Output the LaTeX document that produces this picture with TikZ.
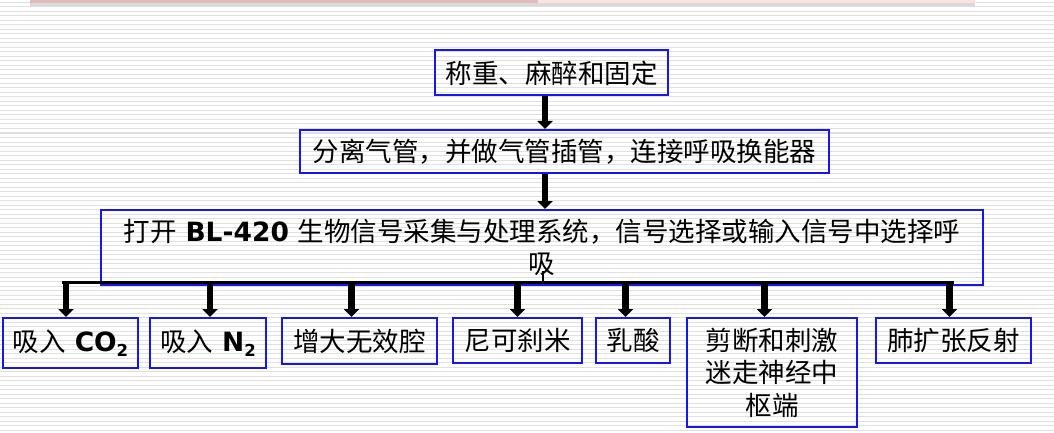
\documentclass[tikz,border=0pt]{standalone}
\usepackage{fontspec}
\setmainfont{Noto Sans CJK SC}
\newfontfamily\dejavu{DejaVu Sans}
\usetikzlibrary{arrows.meta}
\definecolor{boxblue}{RGB}{22,22,240}
\definecolor{stripegray}{RGB}{224,224,224}
\definecolor{barrose}{RGB}{226,186,186}
\definecolor{barpink}{RGB}{253,226,226}
\newcommand{\bl}[1]{{\dejavu\bfseries #1}}
\newcommand{\lowtwo}{\raisebox{-5pt}{\fontsize{16.5}{16.5}\selectfont 2}}
\newcommand{\gap}{\hspace{9pt}}

\begin{document}
\begin{tikzpicture}[x=1pt, y=-1pt,
		stage/.style={draw=boxblue, line width=2pt, align=center, inner sep=0pt},
		leaf/.style={stage, anchor=north, minimum height=45pt},
		bigarr/.style={line width=6.5pt, -{Triangle[width=15pt,length=8pt]}},
		bus/.style={line width=3.5pt},
		font=\fontsize{26.5}{32.5}\selectfont
	]
	\useasboundingbox (0,0) rectangle (1054,433);
	\fill[white] (0,0) rectangle (1054,433);
	\foreach \y in {2.5,7,...,433}
		\draw[stripegray, line width=1pt] (0,\y) -- (1054,\y);
	\fill[barrose] (30,0) rectangle (538,3.5);
	\fill[barpink] (538,0) rectangle (975,3.5);
	\fill[gray!30] (30,3.5) rectangle (975,6);

	\node[stage, minimum width=233pt, minimum height=45pt] (weigh) at (551.5,73) {称重、麻醉和固定};
	\node[stage, minimum width=529pt, minimum height=43pt] (trach) at (564.5,151.5) {分离气管，并做气管插管，连接呼吸换能器};
	\node[stage, minimum width=882pt, minimum height=75pt] (system) at (542,247.5) {打开\gap\bl{BL-420}\gap 生物信号采集与处理系统，信号选择或输入信号中选择呼\\吸};

	\node[leaf, minimum width=135pt, minimum height=50pt] (co2) at (70.5,317) {吸入\gap\bl{CO\lowtwo}};
	\node[leaf, minimum width=116pt, minimum height=50pt] (n2) at (208,317) {吸入\gap\bl{N\lowtwo}};
	\node[leaf, minimum width=155pt, minimum height=46pt] (deadspace) at (359.5,317) {增大无效腔};
	\node[leaf, minimum width=129pt] (nikethamide) at (517.5,317) {尼可刹米};
	\node[leaf, minimum width=74pt] (lactate) at (633,317) {乳酸};
	\node[leaf, minimum width=170pt, minimum height=109pt] (vagus) at (772,317) {剪断和刺激\\迷走神经中\\枢端};
	\node[leaf, minimum width=155pt] (inflation) at (953.5,317) {肺扩张反射};

	\coordinate (spine) at (545,0);
	\draw[bigarr] (weigh.south -| spine) -- (trach.north -| spine);
	\draw[bigarr] (trach.south -| spine) -- (system.north -| spine);

	\coordinate (busL) at (62,282.5);
	\coordinate (busR) at (954,282.5);
	\coordinate (stem) at (543,271);
	\draw[bus] (busL) -- (busR);
	\draw[line width=1.5pt] (stem) -- (stem |- busL);

	\foreach \x/\dest in {66/co2, 210/n2, 351.5/deadspace, 517.5/nikethamide, 625.5/lactate, 764.5/vagus, 949.5/inflation} {
		\coordinate (drop-\dest) at (\x,282.5);
		\draw[bigarr] (drop-\dest) -- (drop-\dest |- \dest.north);
	}
\end{tikzpicture}
\end{document}
